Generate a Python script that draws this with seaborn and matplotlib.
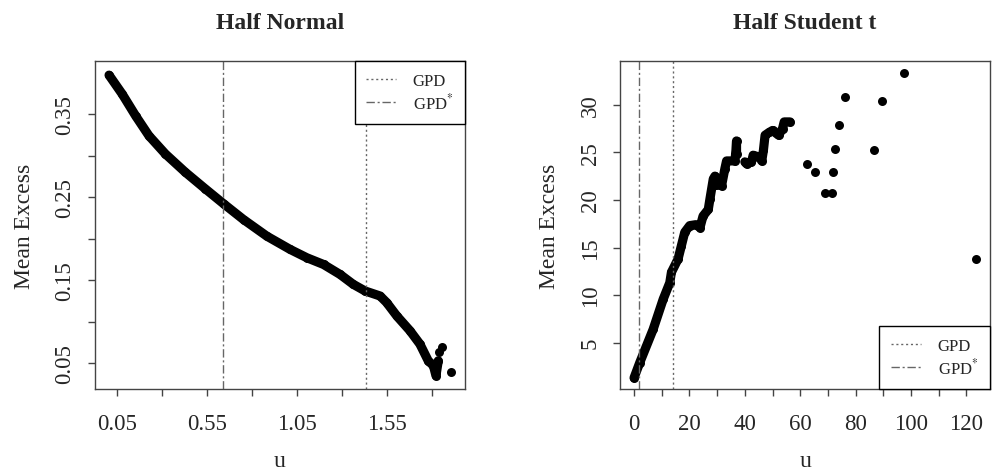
import pandas as pd
import seaborn as sns
import matplotlib.pyplot as plt
from matplotlib.lines import Line2D

# Half Normal: dense part of the mean excess curve, then the last scattered points
hn_u = [0.004, 0.078, 0.152, 0.226, 0.318, 0.429, 0.54, 0.642, 0.753, 0.883,
        1.013, 1.106, 1.198, 1.29, 1.364, 1.43, 1.513, 1.55, 1.606, 1.68, 1.735,
        1.781, 1.81, 1.824, 1.837]
hn_me = [0.397, 0.374, 0.348, 0.324, 0.302, 0.280, 0.260, 0.242, 0.223, 0.203,
         0.187, 0.177, 0.169, 0.157, 0.145, 0.137, 0.131, 0.123, 0.107, 0.089,
         0.073, 0.053, 0.047, 0.035, 0.053]
hn_u_tail = [1.842, 1.857, 1.907]
hn_me_tail = [0.063, 0.069, 0.040]

# Half Student t
ht_u = [0, 2.06, 6.9, 10.5, 12.9, 13.5, 15.9, 17.1, 18.3, 20.1, 22.3, 23.8, 24.9,
        26.8, 27.4, 28.6, 29.2, 29.5, 31.6, 32.8, 33.4, 36.4, 36.8, 37.0, 37.0,
        40.0, 40.6, 42.4, 43.0, 45.2, 46.1, 46.7, 47.3, 48.8, 50.0, 52.2, 53.6,
        54.2, 56.3]
ht_me = [1.3, 2.9, 6.4, 9.55, 11.3, 12.4, 13.8, 15.2, 16.6, 17.3, 17.4, 17.1, 18.3,
         19.0, 20.1, 22.2, 22.5, 21.6, 21.5, 23.3, 24.1, 24.1, 25.2, 26.2, 24.8,
         24.0, 23.8, 24.0, 24.7, 24.5, 24.1, 25.2, 26.8, 27.1, 27.3, 26.8, 27.5,
         28.2, 28.2]
ht_seg = [1] * 25 + [2] * 14
ht_u_tail = [62.5, 65.3, 69.1, 71.5, 71.7, 72.6, 73.9, 76.2, 86.5, 89.4, 97.3, 123.5]
ht_me_tail = [23.8, 22.9, 20.7, 20.7, 22.9, 25.4, 27.9, 30.8, 25.3, 30.35, 33.3, 13.8]

# thresholds (GPD, GPD*)
hn_thr = [1.435, 0.64]
ht_thr = [14.1, 1.8]

hn_xticks = [0.05, 0.30, 0.55, 0.80, 1.05, 1.30, 1.55, 1.80]
hn_xlabels = ["0.05", "", "0.55", "", "1.05", "", "1.55", ""]
hn_yticks = [0.05, 0.10, 0.15, 0.20, 0.25, 0.30, 0.35]
hn_ylabels = ["0.05", "", "0.15", "", "0.25", "", "0.35"]
ht_xticks = list(range(0, 130, 10))
ht_xlabels = [str(t) if t % 20 == 0 else "" for t in ht_xticks]
ht_yticks = [5, 10, 15, 20, 25, 30]
ht_ylabels = [str(t) for t in ht_yticks]

sns.set_style("ticks")
plt.rcParams['font.family'] = ['Liberation Serif', 'DejaVu Serif']
plt.rcParams['mathtext.fontset'] = 'stix'

fig = plt.figure(figsize=(9.92, 4.77), dpi=100)
ax1 = fig.add_axes([0.0958, 0.1824, 0.373, 0.6876])
ax2 = fig.add_axes([0.6253, 0.1824, 0.3727, 0.6876])

grey = "#666666"
edge = "#444444"


def panel(ax, df, tail, thr, title, xlim, ylim, xt, xl, yt, yl, legend_loc):
    sns.lineplot(data=df, x="u", y="me", units="seg", estimator=None, sort=False,
                 color="black", linewidth=6.6, solid_capstyle="round", ax=ax)
    sns.scatterplot(data=df, x="u", y="me", color="black", s=42, linewidth=0, ax=ax)
    sns.scatterplot(data=tail, x="u", y="me", color="black", s=42, linewidth=0, ax=ax)
    ax.axvline(thr[0], color=grey, lw=1, ls=(0, (1.5, 2)))
    ax.axvline(thr[1], color=grey, lw=1, ls=(0, (6, 2, 1.5, 2)))
    ax.set_xlim(*xlim)
    ax.set_ylim(*ylim)
    ax.set_xticks(xt)
    ax.set_xticklabels(xl)
    ax.set_yticks(yt)
    ax.set_yticklabels(yl, rotation=90, va="center")
    ax.tick_params(direction="out", length=5, width=1, color=edge, labelsize=16.5)
    ax.tick_params(axis="x", pad=12)
    ax.tick_params(axis="y", pad=9)
    for s in ax.spines.values():
        s.set_visible(True)
        s.set_color(edge)
        s.set_linewidth(1)
    ax.set_xlabel("u", fontsize=17, labelpad=12)
    ax.set_ylabel("Mean Excess", fontsize=17, labelpad=14)
    ax.set_title(title, fontsize=17, fontweight="bold", pad=24)
    handles = [Line2D([], [], color=grey, lw=1, ls=(0, (1.5, 2))),
               Line2D([], [], color=grey, lw=1, ls=(0, (6, 2, 1.5, 2)))]
    leg = ax.legend(handles, ["GPD", "GPD$^{*}$"], loc=legend_loc, borderaxespad=0,
                    fancybox=False, framealpha=1, edgecolor="black", fontsize=12,
                    handlelength=1.8, handletextpad=1.0, borderpad=0.7,
                    labelspacing=0.2)
    leg.get_frame().set_linewidth(1)


hn_df = pd.DataFrame({"u": hn_u, "me": hn_me, "seg": 1})
hn_tail = pd.DataFrame({"u": hn_u_tail, "me": hn_me_tail})
ht_df = pd.DataFrame({"u": ht_u, "me": ht_me, "seg": ht_seg})
ht_tail = pd.DataFrame({"u": ht_u_tail, "me": ht_me_tail})

panel(ax1, hn_df, hn_tail, hn_thr, "Half Normal", (-0.074, 1.986), (0.019, 0.414),
      hn_xticks, hn_xlabels, hn_yticks, hn_ylabels, "upper right")
panel(ax2, ht_df, ht_tail, ht_thr, "Half Student t", (-4.96, 128.5), (0.13, 34.6),
      ht_xticks, ht_xlabels, ht_yticks, ht_ylabels, "lower right")

fig.savefig("out.png", dpi=100)
